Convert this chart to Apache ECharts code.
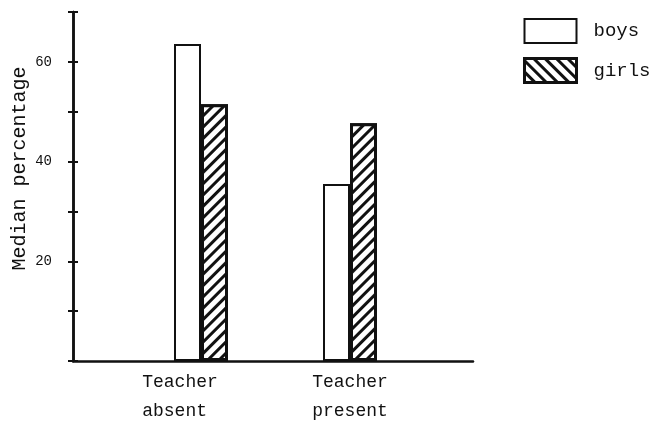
<!DOCTYPE html>
<html>
<head>
<meta charset="utf-8">
<script src="https://cdn.jsdelivr.net/npm/echarts@6/dist/echarts.min.js"></script>
<style>
  html, body { margin: 0; background: #fff; }
  #chart { width: 655px; height: 421px; }
</style>
</head>
<body>
<div id="chart"></div>
<script>
// ── Data ────────────────────────────────────────────────
const categories = ['Teacher\nabsent ', 'Teacher\npresent'];
const boys = [63.6, 35.5];
const girls = [51.5, 47.7];
const yLabelled = [20, 40, 60];

const FONT = '"Liberation Mono", "DejaVu Sans Mono", monospace';
const INK = '#111';

const hatch = (rot) => ({
    symbol: 'rect',
    symbolSize: 1,
    color: INK,
    backgroundColor: '#fff',
    dashArrayX: [1, 0],
    dashArrayY: [2.5, 5],
    rotation: rot,
});

const chart = echarts.init(document.getElementById('chart'), null, { renderer: 'canvas' });

chart.setOption({
    animation: false,
    backgroundColor: '#fff',
    textStyle: { fontFamily: FONT, color: INK },
    grid: [
        // frame: axes only
        { left: 73, right: 182, top: 12, bottom: 60, outerBoundsMode: 'none', containLabel: false },
        // bars
        { left: 126.5, width: 298, top: 12, bottom: 60, outerBoundsMode: 'none', containLabel: false },
    ],
    legend: {
        orient: 'vertical',
        left: 523,
        top: 18,
        padding: 0,
        itemWidth: 52,
        itemHeight: 24,
        itemGap: 13,
        icon: 'rect',
        textStyle: { fontFamily: FONT, fontSize: 19, color: INK, padding: [0, 0, 0, 12] },
        data: [
            { name: 'boys', itemStyle: { borderWidth: 2 } },
            { name: 'girls', itemStyle: { borderWidth: 3, decal: hatch(Math.PI / 4) } },
        ],
    },
    xAxis: [
        {
            gridIndex: 0,
            type: 'value',
            min: 0,
            max: 1,
            axisLine: { show: true, lineStyle: { color: INK, width: 2.5 } },
            axisTick: { show: false },
            axisLabel: { show: false },
            splitLine: { show: false },
        },
        {
            gridIndex: 1,
            type: 'category',
            data: [
                { value: categories[0], textStyle: { padding: [0, 42, 0, 0] } },
                categories[1],
            ],
            axisLine: { show: false },
            axisTick: { show: false },
            axisLabel: {
                fontFamily: FONT,
                fontSize: 18,
                color: INK,
                lineHeight: 29,
                margin: 7,
                align: 'center',
            },
        },
    ],
    yAxis: [
        {
            gridIndex: 0,
            type: 'value',
            min: 0,
            max: 70,
            interval: 10,
            name: 'Median percentage',
            nameLocation: 'middle',
            nameGap: 43,
            nameMoveOverlap: false,
            nameTextStyle: { fontFamily: FONT, fontSize: 20, color: INK, padding: [0, 0, 0, 36] },
            axisLine: { show: true, lineStyle: { color: INK, width: 2.5 } },
            axisTick: { show: true, length: 5, lineStyle: { color: INK, width: 2 } },
            axisLabel: {
                fontFamily: FONT,
                fontSize: 14,
                color: INK,
                margin: 21,
                formatter: (v) => (yLabelled.includes(v) ? String(v) : ''),
            },
            splitLine: { show: false },
        },
        {
            // bar scale; also draws the inward half of the crossing ticks at x = 73
            gridIndex: 1,
            type: 'value',
            position: 'left',
            offset: 53.5,
            min: 0,
            max: 70,
            interval: 10,
            axisLine: { show: true, lineStyle: { color: INK, width: 2.5 } },
            axisTick: { show: true, inside: true, length: 5, lineStyle: { color: INK, width: 2 } },
            axisLabel: { show: false },
            splitLine: { show: false },
        },
    ],
    series: [
        {
            name: 'boys',
            type: 'bar',
            xAxisIndex: 1,
            yAxisIndex: 1,
            data: boys,
            barWidth: 27,
            barGap: '0%',
            itemStyle: { color: '#fff', borderColor: INK, borderWidth: 2 },
        },
        {
            name: 'girls',
            type: 'bar',
            xAxisIndex: 1,
            yAxisIndex: 1,
            data: girls,
            barWidth: 27,
            barGap: '0%',
            itemStyle: { color: '#fff', borderColor: INK, borderWidth: 3, decal: hatch(-Math.PI / 4) },
        },
    ],
});
</script>
</body>
</html>
